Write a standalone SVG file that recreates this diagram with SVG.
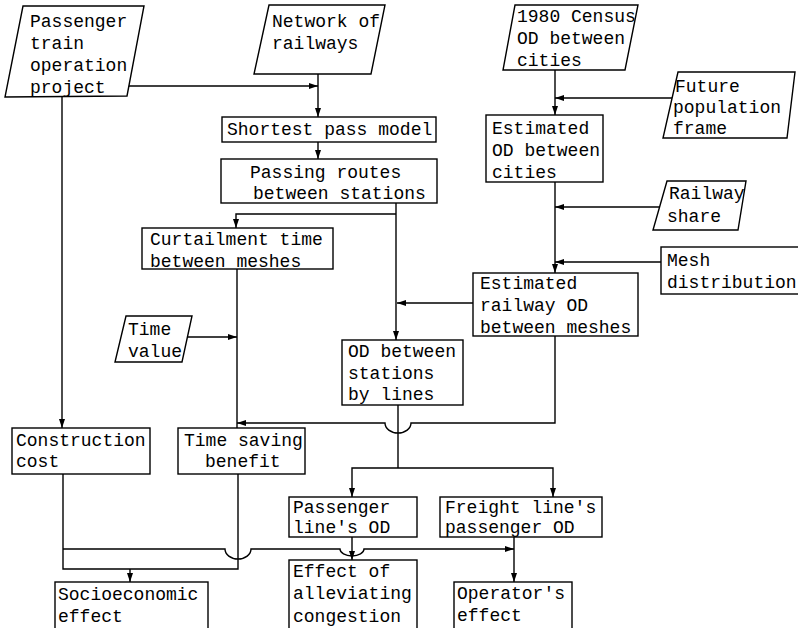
<svg xmlns="http://www.w3.org/2000/svg" width="798" height="628" viewBox="0 0 798 628">
<style>
.n{fill:#fff;stroke:#000;stroke-width:1.4}
.t{font-family:"Liberation Mono","Courier New",monospace;font-size:18px;fill:#000}
.c{fill:none;stroke:#000;stroke-width:1.4}
.a{marker-end:url(#ah)}
</style>
<defs>
<marker id="ah" markerUnits="userSpaceOnUse" markerWidth="9" markerHeight="7" refX="9" refY="3.5" orient="auto">
<path d="M0,0.5 L9,3.5 L0,6.5 z" fill="#000"/>
</marker>
</defs>
<rect width="798" height="628" fill="#fff"/>
<g id="connectors">
<path class="c a" d="M127,86 H318"/>
<path class="c a" d="M318,74 V117"/>
<path class="c a" d="M318,142 V159"/>
<path class="c a" d="M396,203 V340"/>
<path class="c a" d="M396,214 H236 V228"/>
<path class="c" d="M237,269 V428"/>
<path class="c a" d="M188,337 H237"/>
<path class="c a" d="M62,97 V428"/>
<path class="c a" d="M555,70 V115"/>
<path class="c a" d="M672,98 H555"/>
<path class="c a" d="M555,182 V273"/>
<path class="c a" d="M660,207 H555"/>
<path class="c a" d="M661,262 H555"/>
<path class="c a" d="M473,303 H397"/>
<path class="c a" d="M555,336 V423 H411 A13,10 0 0 1 385,423 H237"/>
<path class="c" d="M398,405 V468"/>
<path class="c a" d="M398,468 H352 V497"/>
<path class="c a" d="M398,468 H553 V497"/>
<path class="c a" d="M352,537 V560"/>
<path class="c a" d="M514,537 V582"/>
<path class="c" d="M63,474 V569 H238 V474"/>
<path class="c a" d="M130,569 V582"/>
<path class="c a" d="M63,549 H225 A13,10 0 0 0 251,549 H340 A12,7 0 0 0 364,549 H514"/>
</g>
<g id="passenger-train">
<polygon class="n" points="23,6 144,6 127,96 5,97"/>
<text class="t" x="30" y="27">Passenger</text>
<text class="t" x="30" y="49">train</text>
<text class="t" x="30" y="71">operation</text>
<text class="t" x="30" y="93">project</text>
</g>
<g id="network">
<polygon class="n" points="269,5 385,5 371,74 254,74"/>
<text class="t" x="272" y="27">Network of</text>
<text class="t" x="272" y="49">railways</text>
</g>
<g id="shortest">
<rect class="n" x="222" y="117" width="214" height="25"/>
<text class="t" x="227" y="135">Shortest pass model</text>
</g>
<g id="passing">
<rect class="n" x="221" y="159" width="216" height="44"/>
<text class="t" x="250" y="178">Passing routes</text>
<text class="t" x="253" y="199">between stations</text>
</g>
<g id="curtailment">
<rect class="n" x="142" y="228" width="191" height="41"/>
<text class="t" x="150" y="245">Curtailment time</text>
<text class="t" x="150" y="267">between meshes</text>
</g>
<g id="time-value">
<polygon class="n" points="126,316 192,316 182,362 115,362"/>
<text class="t" x="128" y="335">Time</text>
<text class="t" x="128" y="357">value</text>
</g>
<g id="census">
<polygon class="n" points="515,5 638,5 625,70 503,70"/>
<text class="t" x="517" y="22">1980 Census</text>
<text class="t" x="517" y="44">OD between</text>
<text class="t" x="517" y="66">cities</text>
</g>
<g id="future">
<polygon class="n" points="678,72 795,72 787,138 663,138"/>
<text class="t" x="675" y="92">Future</text>
<text class="t" x="673" y="113">population</text>
<text class="t" x="673" y="134">frame</text>
</g>
<g id="est-od">
<rect class="n" x="486" y="115" width="117" height="67"/>
<text class="t" x="492" y="134">Estimated</text>
<text class="t" x="492" y="156">OD between</text>
<text class="t" x="492" y="178">cities</text>
</g>
<g id="railway-share">
<polygon class="n" points="667,181 746,181 738,230 653,230"/>
<text class="t" x="669" y="199">Railway</text>
<text class="t" x="667" y="222">share</text>
</g>
<g id="mesh">
<rect class="n" x="661" y="247" width="140" height="47"/>
<text class="t" x="667" y="266">Mesh</text>
<text class="t" x="667" y="288">distribution</text>
</g>
<g id="est-rail-od">
<rect class="n" x="473" y="273" width="165" height="63"/>
<text class="t" x="480" y="289">Estimated</text>
<text class="t" x="480" y="311">railway OD</text>
<text class="t" x="480" y="333">between meshes</text>
</g>
<g id="od-stations">
<rect class="n" x="342" y="340" width="121" height="65"/>
<text class="t" x="348" y="357">OD between</text>
<text class="t" x="348" y="379">stations</text>
<text class="t" x="348" y="400">by lines</text>
</g>
<g id="construction">
<rect class="n" x="12" y="428" width="138" height="46"/>
<text class="t" x="16" y="446">Construction</text>
<text class="t" x="16" y="467">cost</text>
</g>
<g id="time-saving">
<rect class="n" x="178" y="428" width="127" height="46"/>
<text class="t" x="184" y="446">Time saving</text>
<text class="t" x="205" y="467">benefit</text>
</g>
<g id="passenger-od">
<rect class="n" x="289" y="497" width="128" height="40"/>
<text class="t" x="293" y="513">Passenger</text>
<text class="t" x="293" y="533">line's OD</text>
</g>
<g id="freight-od">
<rect class="n" x="440" y="497" width="162" height="40"/>
<text class="t" x="445" y="513">Freight line's</text>
<text class="t" x="445" y="533">passenger OD</text>
</g>
<g id="socioeconomic">
<rect class="n" x="55" y="582" width="153" height="60"/>
<text class="t" x="58" y="600">Socioeconomic</text>
<text class="t" x="58" y="622">effect</text>
</g>
<g id="congestion">
<rect class="n" x="289" y="560" width="128" height="80"/>
<text class="t" x="293" y="577">Effect of</text>
<text class="t" x="293" y="599">alleviating</text>
<text class="t" x="293" y="622">congestion</text>
</g>
<g id="operator">
<rect class="n" x="454" y="582" width="118" height="60"/>
<text class="t" x="457" y="599">Operator's</text>
<text class="t" x="457" y="621">effect</text>
</g>
</svg>
